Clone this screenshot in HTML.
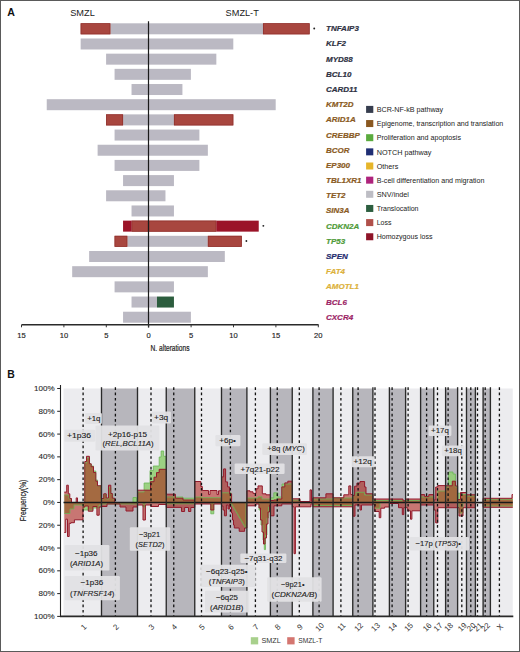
<!DOCTYPE html>
<html><head><meta charset="utf-8"><style>
html,body{margin:0;padding:0;background:#fff;}
body{width:520px;height:652px;overflow:hidden;position:relative;}
.frame{position:absolute;left:0;top:0;width:518px;height:650px;border:1px solid #5a5a5a;}
svg{position:absolute;left:0;top:0;font-family:"Liberation Sans", sans-serif;}
</style></head><body>
<svg width="520" height="652" viewBox="0 0 520 652">
<text x="7.3" y="16.4" font-size="10.6" font-weight="bold" fill="#111">A</text>
<text x="82.5" y="15.6" font-size="9.2" text-anchor="middle" fill="#222">SMZL</text>
<text x="242.2" y="15.8" font-size="9.2" text-anchor="middle" fill="#222">SMZL-T</text>
<rect x="110.34" y="23.30" width="38.16" height="11.0" fill="#bbb9c3"/>
<rect x="80.66" y="23.30" width="29.68" height="11.0" fill="#a8463f"/>
<rect x="81.01" y="23.65" width="28.98" height="10.30" fill="none" stroke="#8f2f2c" stroke-width="0.7"/>
<rect x="148.50" y="23.30" width="114.48" height="11.0" fill="#bbb9c3"/>
<rect x="262.98" y="23.30" width="46.64" height="11.0" fill="#a8463f"/>
<rect x="263.33" y="23.65" width="45.94" height="10.30" fill="none" stroke="#8f2f2c" stroke-width="0.7"/>
<circle cx="314.22" cy="28.50" r="0.95" fill="#222"/>
<text x="326" y="31.30" font-size="8.0" font-weight="bold" font-style="italic" fill="#2e3142" stroke="#2e3142" stroke-width="0.2">TNFAIP3</text>
<rect x="80.66" y="38.48" width="67.84" height="11.0" fill="#bbb9c3"/>
<rect x="148.50" y="38.48" width="84.80" height="11.0" fill="#bbb9c3"/>
<text x="326" y="46.48" font-size="8.0" font-weight="bold" font-style="italic" fill="#2e3142" stroke="#2e3142" stroke-width="0.2">KLF2</text>
<rect x="106.10" y="53.66" width="42.40" height="11.0" fill="#bbb9c3"/>
<rect x="148.50" y="53.66" width="67.84" height="11.0" fill="#bbb9c3"/>
<text x="326" y="61.66" font-size="8.0" font-weight="bold" font-style="italic" fill="#2e3142" stroke="#2e3142" stroke-width="0.2">MYD88</text>
<rect x="114.58" y="68.84" width="33.92" height="11.0" fill="#bbb9c3"/>
<rect x="148.50" y="68.84" width="42.40" height="11.0" fill="#bbb9c3"/>
<text x="326" y="76.84" font-size="8.0" font-weight="bold" font-style="italic" fill="#2e3142" stroke="#2e3142" stroke-width="0.2">BCL10</text>
<rect x="131.54" y="84.02" width="16.96" height="11.0" fill="#bbb9c3"/>
<rect x="148.50" y="84.02" width="33.92" height="11.0" fill="#bbb9c3"/>
<text x="326" y="92.02" font-size="8.0" font-weight="bold" font-style="italic" fill="#2e3142" stroke="#2e3142" stroke-width="0.2">CARD11</text>
<rect x="46.74" y="99.20" width="101.76" height="11.0" fill="#bbb9c3"/>
<rect x="148.50" y="99.20" width="127.20" height="11.0" fill="#bbb9c3"/>
<text x="326" y="107.20" font-size="8.0" font-weight="bold" font-style="italic" fill="#8a5a22" stroke="#8a5a22" stroke-width="0.2">KMT2D</text>
<rect x="123.06" y="114.38" width="25.44" height="11.0" fill="#bbb9c3"/>
<rect x="106.10" y="114.38" width="16.96" height="11.0" fill="#a8463f"/>
<rect x="106.45" y="114.73" width="16.26" height="10.30" fill="none" stroke="#8f2f2c" stroke-width="0.7"/>
<rect x="148.50" y="114.38" width="25.44" height="11.0" fill="#bbb9c3"/>
<rect x="173.94" y="114.38" width="59.36" height="11.0" fill="#a8463f"/>
<rect x="174.29" y="114.73" width="58.66" height="10.30" fill="none" stroke="#8f2f2c" stroke-width="0.7"/>
<text x="326" y="122.38" font-size="8.0" font-weight="bold" font-style="italic" fill="#8a5a22" stroke="#8a5a22" stroke-width="0.2">ARID1A</text>
<rect x="114.58" y="129.56" width="33.92" height="11.0" fill="#bbb9c3"/>
<rect x="148.50" y="129.56" width="50.88" height="11.0" fill="#bbb9c3"/>
<text x="326" y="137.56" font-size="8.0" font-weight="bold" font-style="italic" fill="#8a5a22" stroke="#8a5a22" stroke-width="0.2">CREBBP</text>
<rect x="97.62" y="144.74" width="50.88" height="11.0" fill="#bbb9c3"/>
<rect x="148.50" y="144.74" width="59.36" height="11.0" fill="#bbb9c3"/>
<text x="326" y="152.74" font-size="8.0" font-weight="bold" font-style="italic" fill="#8a5a22" stroke="#8a5a22" stroke-width="0.2">BCOR</text>
<rect x="114.58" y="159.92" width="33.92" height="11.0" fill="#bbb9c3"/>
<rect x="148.50" y="159.92" width="50.88" height="11.0" fill="#bbb9c3"/>
<text x="326" y="167.92" font-size="8.0" font-weight="bold" font-style="italic" fill="#8a5a22" stroke="#8a5a22" stroke-width="0.2">EP300</text>
<rect x="123.06" y="175.10" width="25.44" height="11.0" fill="#bbb9c3"/>
<rect x="148.50" y="175.10" width="25.44" height="11.0" fill="#bbb9c3"/>
<text x="326" y="183.10" font-size="8.0" font-weight="bold" font-style="italic" fill="#8a5a22" stroke="#8a5a22" stroke-width="0.2">TBL1XR1</text>
<rect x="106.10" y="190.28" width="42.40" height="11.0" fill="#bbb9c3"/>
<rect x="148.50" y="190.28" width="16.96" height="11.0" fill="#bbb9c3"/>
<text x="326" y="198.28" font-size="8.0" font-weight="bold" font-style="italic" fill="#8a5a22" stroke="#8a5a22" stroke-width="0.2">TET2</text>
<rect x="131.54" y="205.46" width="16.96" height="11.0" fill="#bbb9c3"/>
<rect x="148.50" y="205.46" width="25.44" height="11.0" fill="#bbb9c3"/>
<text x="326" y="213.46" font-size="8.0" font-weight="bold" font-style="italic" fill="#8a5a22" stroke="#8a5a22" stroke-width="0.2">SIN3A</text>
<rect x="131.54" y="220.64" width="16.96" height="11.0" fill="#a8463f"/>
<rect x="131.89" y="220.99" width="16.26" height="10.30" fill="none" stroke="#8f2f2c" stroke-width="0.7"/>
<rect x="123.06" y="220.64" width="8.48" height="11.0" fill="#9b1328"/>
<rect x="148.50" y="220.64" width="67.84" height="11.0" fill="#a8463f"/>
<rect x="148.85" y="220.99" width="67.14" height="10.30" fill="none" stroke="#8f2f2c" stroke-width="0.7"/>
<rect x="216.34" y="220.64" width="42.40" height="11.0" fill="#9b1328"/>
<circle cx="263.34" cy="225.84" r="0.95" fill="#222"/>
<text x="326" y="228.64" font-size="8.0" font-weight="bold" font-style="italic" fill="#4f9b39" stroke="#4f9b39" stroke-width="0.2">CDKN2A</text>
<rect x="127.30" y="235.82" width="21.20" height="11.0" fill="#bbb9c3"/>
<rect x="114.58" y="235.82" width="12.72" height="11.0" fill="#a8463f"/>
<rect x="114.93" y="236.17" width="12.02" height="10.30" fill="none" stroke="#8f2f2c" stroke-width="0.7"/>
<rect x="148.50" y="235.82" width="59.36" height="11.0" fill="#bbb9c3"/>
<rect x="207.86" y="235.82" width="33.92" height="11.0" fill="#a8463f"/>
<rect x="208.21" y="236.17" width="33.22" height="10.30" fill="none" stroke="#8f2f2c" stroke-width="0.7"/>
<circle cx="246.38" cy="241.02" r="0.95" fill="#222"/>
<text x="326" y="243.82" font-size="8.0" font-weight="bold" font-style="italic" fill="#4f9b39" stroke="#4f9b39" stroke-width="0.2">TP53</text>
<rect x="89.14" y="251.00" width="59.36" height="11.0" fill="#bbb9c3"/>
<rect x="148.50" y="251.00" width="76.32" height="11.0" fill="#bbb9c3"/>
<text x="326" y="259.00" font-size="8.0" font-weight="bold" font-style="italic" fill="#1f2c6e" stroke="#1f2c6e" stroke-width="0.2">SPEN</text>
<rect x="72.18" y="266.18" width="76.32" height="11.0" fill="#bbb9c3"/>
<rect x="148.50" y="266.18" width="59.36" height="11.0" fill="#bbb9c3"/>
<text x="326" y="274.18" font-size="8.0" font-weight="bold" font-style="italic" fill="#dcb13a" stroke="#dcb13a" stroke-width="0.2">FAT4</text>
<rect x="114.58" y="281.36" width="33.92" height="11.0" fill="#bbb9c3"/>
<rect x="148.50" y="281.36" width="25.44" height="11.0" fill="#bbb9c3"/>
<text x="326" y="289.36" font-size="8.0" font-weight="bold" font-style="italic" fill="#dcb13a" stroke="#dcb13a" stroke-width="0.2">AMOTL1</text>
<rect x="131.54" y="296.54" width="16.96" height="11.0" fill="#bbb9c3"/>
<rect x="148.50" y="296.54" width="8.48" height="11.0" fill="#bbb9c3"/>
<rect x="156.98" y="296.54" width="16.96" height="11.0" fill="#2c5d3e"/>
<text x="326" y="304.54" font-size="8.0" font-weight="bold" font-style="italic" fill="#9c1f66" stroke="#9c1f66" stroke-width="0.2">BCL6</text>
<rect x="123.06" y="311.72" width="25.44" height="11.0" fill="#bbb9c3"/>
<rect x="148.50" y="311.72" width="42.40" height="11.0" fill="#bbb9c3"/>
<text x="326" y="319.72" font-size="8.0" font-weight="bold" font-style="italic" fill="#9c1f66" stroke="#9c1f66" stroke-width="0.2">CXCR4</text>
<line x1="148.5" y1="21.2" x2="148.5" y2="327.5" stroke="#1a1a1a" stroke-width="1.2"/>
<line x1="21.5" y1="324.7" x2="318.6" y2="324.7" stroke="#2a2a2a" stroke-width="1.6"/>
<line x1="21.50" y1="324.8" x2="21.50" y2="327.3" stroke="#333" stroke-width="1"/>
<text x="21.50" y="338.4" font-size="7.6" text-anchor="middle" fill="#222" stroke="#222" stroke-width="0.15">15</text>
<line x1="63.90" y1="324.8" x2="63.90" y2="327.3" stroke="#333" stroke-width="1"/>
<text x="63.90" y="338.4" font-size="7.6" text-anchor="middle" fill="#222" stroke="#222" stroke-width="0.15">10</text>
<line x1="106.30" y1="324.8" x2="106.30" y2="327.3" stroke="#333" stroke-width="1"/>
<text x="106.30" y="338.4" font-size="7.6" text-anchor="middle" fill="#222" stroke="#222" stroke-width="0.15">5</text>
<line x1="148.70" y1="324.8" x2="148.70" y2="327.3" stroke="#333" stroke-width="1"/>
<text x="148.70" y="338.4" font-size="7.6" text-anchor="middle" fill="#222" stroke="#222" stroke-width="0.15">0</text>
<line x1="191.10" y1="324.8" x2="191.10" y2="327.3" stroke="#333" stroke-width="1"/>
<text x="191.10" y="338.4" font-size="7.6" text-anchor="middle" fill="#222" stroke="#222" stroke-width="0.15">5</text>
<line x1="233.50" y1="324.8" x2="233.50" y2="327.3" stroke="#333" stroke-width="1"/>
<text x="233.50" y="338.4" font-size="7.6" text-anchor="middle" fill="#222" stroke="#222" stroke-width="0.15">10</text>
<line x1="275.90" y1="324.8" x2="275.90" y2="327.3" stroke="#333" stroke-width="1"/>
<text x="275.90" y="338.4" font-size="7.6" text-anchor="middle" fill="#222" stroke="#222" stroke-width="0.15">15</text>
<line x1="318.30" y1="324.8" x2="318.30" y2="327.3" stroke="#333" stroke-width="1"/>
<text x="318.30" y="338.4" font-size="7.6" text-anchor="middle" fill="#222" stroke="#222" stroke-width="0.15">20</text>
<text x="0" y="0" font-size="8.6" text-anchor="middle" fill="#222" stroke="#222" stroke-width="0.2" transform="translate(170,350.6) scale(0.77,1)">N. alterations</text>
<rect x="366.1" y="105.90" width="7.2" height="7.0" fill="#363d4e"/>
<text x="376.7" y="112.10" font-size="7.6" fill="#222" textLength="66.5" lengthAdjust="spacingAndGlyphs">BCR-NF-kB pathway</text>
<rect x="366.1" y="120.05" width="7.2" height="7.0" fill="#8a5820"/>
<text x="376.7" y="126.25" font-size="7.6" fill="#222" textLength="126.6" lengthAdjust="spacingAndGlyphs">Epigenome, transcription and translation</text>
<rect x="366.1" y="134.20" width="7.2" height="7.0" fill="#5aab3e"/>
<text x="376.7" y="140.40" font-size="7.6" fill="#222" textLength="84.3" lengthAdjust="spacingAndGlyphs">Proliferation and apoptosis</text>
<rect x="366.1" y="148.35" width="7.2" height="7.0" fill="#1f2e74"/>
<text x="376.7" y="154.55" font-size="7.6" fill="#222" textLength="54.7" lengthAdjust="spacingAndGlyphs">NOTCH pathway</text>
<rect x="366.1" y="162.50" width="7.2" height="7.0" fill="#e6b52a"/>
<text x="376.7" y="168.70" font-size="7.6" fill="#222" textLength="21.6" lengthAdjust="spacingAndGlyphs">Others</text>
<rect x="366.1" y="176.65" width="7.2" height="7.0" fill="#ae237c"/>
<text x="376.7" y="182.85" font-size="7.6" fill="#222" textLength="107.7" lengthAdjust="spacingAndGlyphs">B-cell differentiation and migration</text>
<rect x="366.1" y="190.80" width="7.2" height="7.0" fill="#bdbdc4"/>
<text x="376.7" y="197.00" font-size="7.6" fill="#222" textLength="32.3" lengthAdjust="spacingAndGlyphs">SNV/indel</text>
<rect x="366.1" y="204.95" width="7.2" height="7.0" fill="#2c5e3f"/>
<text x="376.7" y="211.15" font-size="7.6" fill="#222" textLength="41.8" lengthAdjust="spacingAndGlyphs">Translocation</text>
<rect x="366.1" y="219.10" width="7.2" height="7.0" fill="#b0504a"/>
<text x="376.7" y="225.30" font-size="7.6" fill="#222" textLength="14.8" lengthAdjust="spacingAndGlyphs">Loss</text>
<rect x="366.1" y="233.25" width="7.2" height="7.0" fill="#8e1428"/>
<text x="376.7" y="239.45" font-size="7.6" fill="#222" textLength="55.8" lengthAdjust="spacingAndGlyphs">Homozygous loss</text>
<text x="7.2" y="378.2" font-size="10.4" font-weight="bold" fill="#111">B</text>
<rect x="63.50" y="388.50" width="38.00" height="227.90" fill="#ececef"/>
<rect x="101.50" y="388.50" width="36.00" height="227.90" fill="#b7b6bc"/>
<rect x="137.50" y="388.50" width="28.75" height="227.90" fill="#ececef"/>
<rect x="166.25" y="388.50" width="28.50" height="227.90" fill="#b7b6bc"/>
<rect x="194.75" y="388.50" width="26.75" height="227.90" fill="#ececef"/>
<rect x="221.50" y="388.50" width="25.40" height="227.90" fill="#b7b6bc"/>
<rect x="246.90" y="388.50" width="23.50" height="227.90" fill="#ececef"/>
<rect x="270.40" y="388.50" width="21.85" height="227.90" fill="#b7b6bc"/>
<rect x="292.25" y="388.50" width="20.65" height="227.90" fill="#ececef"/>
<rect x="312.90" y="388.50" width="20.20" height="227.90" fill="#b7b6bc"/>
<rect x="333.10" y="388.50" width="19.65" height="227.90" fill="#ececef"/>
<rect x="352.75" y="388.50" width="20.15" height="227.90" fill="#b7b6bc"/>
<rect x="372.90" y="388.50" width="16.50" height="227.90" fill="#ececef"/>
<rect x="389.40" y="388.50" width="16.20" height="227.90" fill="#b7b6bc"/>
<rect x="405.60" y="388.50" width="15.00" height="227.90" fill="#ececef"/>
<rect x="420.60" y="388.50" width="13.15" height="227.90" fill="#b7b6bc"/>
<rect x="433.75" y="388.50" width="11.85" height="227.90" fill="#ececef"/>
<rect x="445.60" y="388.50" width="12.00" height="227.90" fill="#b7b6bc"/>
<rect x="457.60" y="388.50" width="8.90" height="227.90" fill="#ececef"/>
<rect x="466.50" y="388.50" width="8.90" height="227.90" fill="#b7b6bc"/>
<rect x="475.40" y="388.50" width="7.70" height="227.90" fill="#ececef"/>
<rect x="483.10" y="388.50" width="7.30" height="227.90" fill="#b7b6bc"/>
<rect x="490.40" y="388.50" width="22.35" height="227.90" fill="#ececef"/>
<path d="M64.30,502.45L64.30,495.00L69.00,495.00L69.00,499.00L71.50,499.00L71.50,502.60L84.80,502.60L84.80,463.00L86.50,463.00L86.50,458.00L89.40,458.00L89.40,464.00L91.20,464.00L91.20,466.00L93.50,466.00L93.50,471.00L95.80,471.00L95.80,480.00L97.50,480.00L97.50,486.00L101.30,486.00L101.30,499.00L103.80,499.00L103.80,494.50L106.50,494.50L106.50,499.00L108.90,499.00L108.90,487.50L110.90,487.50L110.90,494.00L112.80,494.00L112.80,499.00L114.50,499.00L114.50,502.60L133.00,502.60L133.00,497.50L136.50,497.50L136.50,502.60L137.60,502.60L137.60,492.00L144.10,492.00L144.10,483.00L150.00,483.00L150.00,470.60L153.30,470.60L153.30,466.00L159.20,466.00L159.20,457.00L161.10,457.00L161.10,451.00L163.70,451.00L163.70,456.30L166.30,456.30L166.30,497.00L183.00,497.00L183.00,498.20L194.70,498.20L194.80,497.00L202.00,497.00L202.00,497.70L221.50,497.70L221.60,492.80L231.00,492.80L231.00,502.60L246.90,502.60L246.90,498.00L258.00,498.00L258.00,496.80L262.00,496.80L262.00,499.00L270.40,499.00L270.40,497.80L273.80,497.80L273.80,492.80L277.80,492.80L277.80,497.00L282.00,497.00L282.00,484.00L292.20,484.00L292.30,500.00L300.00,500.00L300.00,502.60L312.90,502.60L312.90,499.00L333.10,499.00L333.10,498.00L352.70,498.00L352.80,495.00L356.00,495.00L356.00,492.30L364.60,492.30L364.60,495.00L372.90,495.00L372.90,500.50L420.60,500.50L420.60,497.00L433.70,497.00L433.70,502.60L437.80,502.60L437.80,491.00L445.60,491.00L445.60,487.00L448.50,487.00L448.50,472.00L453.00,472.00L453.00,474.00L455.40,474.00L455.40,487.00L457.60,487.00L457.60,493.20L460.50,493.20L460.50,494.50L466.50,494.50L466.50,496.00L475.40,496.00L475.40,502.60L483.10,502.60L483.10,499.30L512.80,499.30L512.80,502.45Z" fill="rgba(148,206,118,0.9)"/>
<path d="M64.30,502.45L64.30,513.50L70.00,513.50L70.00,509.00L74.00,509.00L74.00,505.00L83.00,505.00L83.00,510.00L92.90,510.00L92.90,508.00L99.00,508.00L99.00,505.00L101.30,505.00L101.30,504.00L137.50,504.00L137.50,502.60L143.00,502.60L143.00,507.00L145.00,507.00L145.00,502.60L166.30,502.60L166.30,503.80L194.70,503.80L194.70,502.60L210.80,502.60L210.80,513.80L213.80,513.80L213.80,502.60L231.00,502.60L231.00,503.90L232.00,503.90L232.00,505.60L233.00,505.60L233.00,507.30L234.00,507.30L234.00,509.00L235.00,509.00L235.00,510.70L236.00,510.70L236.00,512.40L237.00,512.40L237.00,514.10L238.00,514.10L238.00,515.90L239.00,515.90L239.00,517.60L240.00,517.60L240.00,519.30L241.00,519.30L241.00,521.00L242.00,521.00L242.00,522.70L243.00,522.70L243.00,524.40L244.00,524.40L244.00,526.10L245.00,526.10L245.00,527.90L246.00,527.90L246.00,502.60L259.00,502.60L259.00,510.00L261.00,510.00L261.00,525.00L263.00,525.00L263.00,540.00L264.30,540.00L264.30,549.60L265.50,549.60L265.50,535.00L267.00,535.00L267.00,518.00L268.50,518.00L268.50,507.00L270.40,507.00L270.40,502.60L312.90,502.60L312.90,505.50L352.70,505.50L352.70,502.60L374.60,502.60L374.60,508.20L380.00,508.20L380.00,502.60L459.00,502.60L459.00,513.00L463.00,513.00L463.00,502.60L483.10,502.60L483.10,506.00L512.80,506.00L512.80,502.45Z" fill="rgba(148,206,118,0.9)"/>
<path d="M64.30,502.45L64.30,492.10L66.70,492.10L66.70,485.20L68.30,485.20L68.30,493.80L69.80,493.80L69.80,498.50L71.50,498.50L71.50,502.60L76.20,502.60L76.20,497.90L77.50,497.90L77.50,502.60L84.80,502.60L84.80,461.50L86.50,461.50L86.50,456.30L89.40,456.30L89.40,463.80L91.20,463.80L91.20,466.70L93.50,466.70L93.50,472.50L95.80,472.50L95.80,481.20L97.50,481.20L97.50,485.80L101.30,485.80L101.30,498.50L103.80,498.50L103.80,493.80L106.20,493.80L106.20,498.00L108.50,498.00L108.50,485.20L110.80,485.20L110.80,493.50L112.30,493.50L112.30,498.20L114.60,498.20L114.60,502.60L137.50,502.60L137.60,490.20L150.50,490.20L150.50,481.70L154.00,481.70L154.00,477.20L156.50,477.20L156.50,472.60L159.20,472.60L159.20,469.30L166.30,469.30L166.30,494.20L175.40,494.20L175.40,498.20L183.00,498.20L183.00,500.00L194.70,500.00L194.80,481.50L200.80,481.50L200.80,486.50L202.30,486.50L202.30,490.50L208.50,490.50L208.50,494.60L210.00,494.60L210.00,490.50L217.00,490.50L217.00,494.60L218.50,494.60L218.50,490.80L221.50,490.80L221.60,476.90L223.60,476.90L223.60,468.90L225.60,468.90L225.60,481.90L227.60,481.90L227.60,486.90L229.60,486.90L229.60,493.80L231.60,493.80L231.60,502.60L246.90,502.60L246.90,490.80L250.00,490.80L250.00,491.80L253.00,491.80L253.00,493.40L256.00,493.40L256.00,488.80L258.00,488.80L258.00,485.90L262.30,485.90L262.30,493.80L266.00,493.80L266.00,494.80L270.40,494.80L270.40,500.50L273.80,500.50L273.80,500.00L277.80,500.00L277.80,499.00L281.80,499.00L281.80,486.90L284.80,486.90L284.80,482.90L287.80,482.90L287.80,481.20L292.20,481.20L292.30,498.80L300.00,498.80L300.00,501.50L310.00,501.50L310.00,489.90L311.50,489.90L311.50,501.50L312.90,501.50L312.90,497.80L325.90,497.80L325.90,493.80L333.10,493.80L333.10,497.80L343.80,497.80L343.80,494.80L348.80,494.80L348.80,485.90L350.80,485.90L350.80,494.60L352.70,494.60L352.80,495.50L354.60,495.50L354.60,486.20L356.90,486.20L356.90,483.10L360.00,483.10L360.00,481.50L364.60,481.50L364.60,487.00L366.00,487.00L366.00,493.80L372.90,493.80L372.90,499.00L389.40,499.00L389.40,499.00L403.00,499.00L403.00,500.80L405.60,500.80L405.60,499.00L420.60,499.00L420.60,494.60L424.70,494.60L424.70,496.60L428.80,496.60L428.80,494.60L433.70,494.60L433.80,500.00L435.70,500.00L435.70,487.00L437.80,487.00L437.80,485.60L445.60,485.60L445.60,485.80L452.30,485.80L452.30,481.20L455.40,481.20L455.40,486.00L457.60,486.00L457.60,499.60L460.50,499.60L460.50,492.50L466.50,492.50L466.50,494.80L475.40,494.80L475.40,502.60L483.10,502.60L483.10,498.30L490.40,498.30L490.40,498.30L512.00,498.30L512.00,494.50L512.80,494.50L512.80,502.45Z" fill="rgba(172,22,12,0.55)"/>
<path d="M64.30,502.45L64.30,532.50L65.80,532.50L65.80,519.20L67.50,519.20L67.50,536.50L69.20,536.50L69.20,523.30L71.00,523.30L71.00,522.70L74.40,522.70L74.40,519.80L83.00,519.80L83.00,507.10L84.80,507.10L84.80,506.00L88.30,506.00L88.30,511.20L92.90,511.20L92.90,506.50L96.90,506.50L96.90,515.20L99.20,515.20L99.20,507.00L101.30,507.00L101.30,506.50L107.00,506.50L107.00,504.00L120.00,504.00L120.00,507.00L126.00,507.00L126.00,511.00L133.00,511.00L133.00,507.00L137.50,507.00L137.60,505.00L143.00,505.00L143.00,520.00L145.40,520.00L145.40,505.00L150.80,505.00L150.80,506.50L158.50,506.50L158.50,504.50L166.30,504.50L166.30,507.40L181.50,507.40L181.50,511.50L184.60,511.50L184.60,507.50L188.50,507.50L188.50,511.50L190.80,511.50L190.80,507.50L194.70,507.50L194.80,504.00L210.80,504.00L210.80,510.00L213.80,510.00L213.80,504.00L221.50,504.00L221.60,506.00L223.00,506.00L223.00,510.00L224.40,510.00L224.40,515.80L226.40,515.80L226.40,505.00L228.00,505.00L228.00,509.00L229.40,509.00L229.40,504.00L230.50,504.00L230.50,507.00L231.50,507.00L231.50,513.00L232.50,513.00L232.50,520.00L233.50,520.00L233.50,525.00L234.30,525.00L234.30,528.00L239.20,528.00L239.20,531.30L244.60,531.30L244.60,528.00L246.90,528.00L246.90,505.80L256.00,505.80L256.00,504.00L259.00,504.00L259.00,508.00L260.50,508.00L260.50,520.00L262.00,520.00L262.00,532.00L263.50,532.00L263.50,544.00L265.00,544.00L265.00,538.00L266.50,538.00L266.50,524.00L268.00,524.00L268.00,512.00L269.50,512.00L269.50,505.00L270.40,505.00L270.40,515.80L274.00,515.80L274.00,505.80L281.80,505.80L281.80,504.00L292.20,504.00L292.30,506.80L294.00,506.80L294.00,553.70L295.40,553.70L295.40,506.80L311.00,506.80L311.00,504.00L312.90,504.00L312.90,506.80L333.10,506.80L333.10,506.80L352.70,506.80L352.80,516.20L355.00,516.20L355.00,505.00L360.00,505.00L360.00,510.00L361.50,510.00L361.50,505.00L372.90,505.00L372.90,504.00L374.60,504.00L374.60,511.50L379.20,511.50L379.20,517.70L380.80,517.70L380.80,508.20L384.60,508.20L384.60,507.00L389.40,507.00L389.40,503.50L398.50,503.50L398.50,507.70L402.30,507.70L402.30,514.60L403.80,514.60L403.80,507.70L405.60,507.70L405.60,507.70L407.70,507.70L407.70,510.80L410.50,510.80L410.50,519.20L411.90,519.20L411.90,510.80L420.60,510.80L420.60,505.00L433.70,505.00L433.80,510.00L435.70,510.00L435.70,522.90L437.80,522.90L437.80,507.70L445.60,507.70L445.60,507.70L457.60,507.70L457.60,507.70L459.00,507.70L459.00,516.00L463.00,516.00L463.00,507.70L466.50,507.70L466.50,507.70L475.40,507.70L475.40,502.60L483.10,502.60L483.10,507.30L490.40,507.30L490.40,507.30L512.80,507.30L512.80,502.45Z" fill="rgba(172,22,12,0.55)"/>
<path d="M64.30,495.00L69.00,495.00L69.00,499.00L71.50,499.00L71.50,502.60L84.80,502.60L84.80,463.00L86.50,463.00L86.50,458.00L89.40,458.00L89.40,464.00L91.20,464.00L91.20,466.00L93.50,466.00L93.50,471.00L95.80,471.00L95.80,480.00L97.50,480.00L97.50,486.00L101.30,486.00L101.30,499.00L103.80,499.00L103.80,494.50L106.50,494.50L106.50,499.00L108.90,499.00L108.90,487.50L110.90,487.50L110.90,494.00L112.80,494.00L112.80,499.00L114.50,499.00L114.50,502.60L133.00,502.60L133.00,497.50L136.50,497.50L136.50,502.60L137.60,502.60L137.60,492.00L144.10,492.00L144.10,483.00L150.00,483.00L150.00,470.60L153.30,470.60L153.30,466.00L159.20,466.00L159.20,457.00L161.10,457.00L161.10,451.00L163.70,451.00L163.70,456.30L166.30,456.30L166.30,497.00L183.00,497.00L183.00,498.20L194.70,498.20L194.80,497.00L202.00,497.00L202.00,497.70L221.50,497.70L221.60,492.80L231.00,492.80L231.00,502.60L246.90,502.60L246.90,498.00L258.00,498.00L258.00,496.80L262.00,496.80L262.00,499.00L270.40,499.00L270.40,497.80L273.80,497.80L273.80,492.80L277.80,492.80L277.80,497.00L282.00,497.00L282.00,484.00L292.20,484.00L292.30,500.00L300.00,500.00L300.00,502.60L312.90,502.60L312.90,499.00L333.10,499.00L333.10,498.00L352.70,498.00L352.80,495.00L356.00,495.00L356.00,492.30L364.60,492.30L364.60,495.00L372.90,495.00L372.90,500.50L420.60,500.50L420.60,497.00L433.70,497.00L433.70,502.60L437.80,502.60L437.80,491.00L445.60,491.00L445.60,487.00L448.50,487.00L448.50,472.00L453.00,472.00L453.00,474.00L455.40,474.00L455.40,487.00L457.60,487.00L457.60,493.20L460.50,493.20L460.50,494.50L466.50,494.50L466.50,496.00L475.40,496.00L475.40,502.60L483.10,502.60L483.10,499.30L512.80,499.30" fill="none" stroke="#6ab655" stroke-width="0.8"/>
<path d="M64.30,513.50L70.00,513.50L70.00,509.00L74.00,509.00L74.00,505.00L83.00,505.00L83.00,510.00L92.90,510.00L92.90,508.00L99.00,508.00L99.00,505.00L101.30,505.00L101.30,504.00L137.50,504.00L137.50,502.60L143.00,502.60L143.00,507.00L145.00,507.00L145.00,502.60L166.30,502.60L166.30,503.80L194.70,503.80L194.70,502.60L210.80,502.60L210.80,513.80L213.80,513.80L213.80,502.60L231.00,502.60L231.00,503.90L232.00,503.90L232.00,505.60L233.00,505.60L233.00,507.30L234.00,507.30L234.00,509.00L235.00,509.00L235.00,510.70L236.00,510.70L236.00,512.40L237.00,512.40L237.00,514.10L238.00,514.10L238.00,515.90L239.00,515.90L239.00,517.60L240.00,517.60L240.00,519.30L241.00,519.30L241.00,521.00L242.00,521.00L242.00,522.70L243.00,522.70L243.00,524.40L244.00,524.40L244.00,526.10L245.00,526.10L245.00,527.90L246.00,527.90L246.00,502.60L259.00,502.60L259.00,510.00L261.00,510.00L261.00,525.00L263.00,525.00L263.00,540.00L264.30,540.00L264.30,549.60L265.50,549.60L265.50,535.00L267.00,535.00L267.00,518.00L268.50,518.00L268.50,507.00L270.40,507.00L270.40,502.60L312.90,502.60L312.90,505.50L352.70,505.50L352.70,502.60L374.60,502.60L374.60,508.20L380.00,508.20L380.00,502.60L459.00,502.60L459.00,513.00L463.00,513.00L463.00,502.60L483.10,502.60L483.10,506.00L512.80,506.00" fill="none" stroke="#6ab655" stroke-width="0.8"/>
<path d="M64.30,492.10L66.70,492.10L66.70,485.20L68.30,485.20L68.30,493.80L69.80,493.80L69.80,498.50L71.50,498.50L71.50,502.60L76.20,502.60L76.20,497.90L77.50,497.90L77.50,502.60L84.80,502.60L84.80,461.50L86.50,461.50L86.50,456.30L89.40,456.30L89.40,463.80L91.20,463.80L91.20,466.70L93.50,466.70L93.50,472.50L95.80,472.50L95.80,481.20L97.50,481.20L97.50,485.80L101.30,485.80L101.30,498.50L103.80,498.50L103.80,493.80L106.20,493.80L106.20,498.00L108.50,498.00L108.50,485.20L110.80,485.20L110.80,493.50L112.30,493.50L112.30,498.20L114.60,498.20L114.60,502.60L137.50,502.60L137.60,490.20L150.50,490.20L150.50,481.70L154.00,481.70L154.00,477.20L156.50,477.20L156.50,472.60L159.20,472.60L159.20,469.30L166.30,469.30L166.30,494.20L175.40,494.20L175.40,498.20L183.00,498.20L183.00,500.00L194.70,500.00L194.80,481.50L200.80,481.50L200.80,486.50L202.30,486.50L202.30,490.50L208.50,490.50L208.50,494.60L210.00,494.60L210.00,490.50L217.00,490.50L217.00,494.60L218.50,494.60L218.50,490.80L221.50,490.80L221.60,476.90L223.60,476.90L223.60,468.90L225.60,468.90L225.60,481.90L227.60,481.90L227.60,486.90L229.60,486.90L229.60,493.80L231.60,493.80L231.60,502.60L246.90,502.60L246.90,490.80L250.00,490.80L250.00,491.80L253.00,491.80L253.00,493.40L256.00,493.40L256.00,488.80L258.00,488.80L258.00,485.90L262.30,485.90L262.30,493.80L266.00,493.80L266.00,494.80L270.40,494.80L270.40,500.50L273.80,500.50L273.80,500.00L277.80,500.00L277.80,499.00L281.80,499.00L281.80,486.90L284.80,486.90L284.80,482.90L287.80,482.90L287.80,481.20L292.20,481.20L292.30,498.80L300.00,498.80L300.00,501.50L310.00,501.50L310.00,489.90L311.50,489.90L311.50,501.50L312.90,501.50L312.90,497.80L325.90,497.80L325.90,493.80L333.10,493.80L333.10,497.80L343.80,497.80L343.80,494.80L348.80,494.80L348.80,485.90L350.80,485.90L350.80,494.60L352.70,494.60L352.80,495.50L354.60,495.50L354.60,486.20L356.90,486.20L356.90,483.10L360.00,483.10L360.00,481.50L364.60,481.50L364.60,487.00L366.00,487.00L366.00,493.80L372.90,493.80L372.90,499.00L389.40,499.00L389.40,499.00L403.00,499.00L403.00,500.80L405.60,500.80L405.60,499.00L420.60,499.00L420.60,494.60L424.70,494.60L424.70,496.60L428.80,496.60L428.80,494.60L433.70,494.60L433.80,500.00L435.70,500.00L435.70,487.00L437.80,487.00L437.80,485.60L445.60,485.60L445.60,485.80L452.30,485.80L452.30,481.20L455.40,481.20L455.40,486.00L457.60,486.00L457.60,499.60L460.50,499.60L460.50,492.50L466.50,492.50L466.50,494.80L475.40,494.80L475.40,502.60L483.10,502.60L483.10,498.30L490.40,498.30L490.40,498.30L512.00,498.30L512.00,494.50L512.80,494.50" fill="none" stroke="#931a2c" stroke-width="1"/>
<path d="M64.30,532.50L65.80,532.50L65.80,519.20L67.50,519.20L67.50,536.50L69.20,536.50L69.20,523.30L71.00,523.30L71.00,522.70L74.40,522.70L74.40,519.80L83.00,519.80L83.00,507.10L84.80,507.10L84.80,506.00L88.30,506.00L88.30,511.20L92.90,511.20L92.90,506.50L96.90,506.50L96.90,515.20L99.20,515.20L99.20,507.00L101.30,507.00L101.30,506.50L107.00,506.50L107.00,504.00L120.00,504.00L120.00,507.00L126.00,507.00L126.00,511.00L133.00,511.00L133.00,507.00L137.50,507.00L137.60,505.00L143.00,505.00L143.00,520.00L145.40,520.00L145.40,505.00L150.80,505.00L150.80,506.50L158.50,506.50L158.50,504.50L166.30,504.50L166.30,507.40L181.50,507.40L181.50,511.50L184.60,511.50L184.60,507.50L188.50,507.50L188.50,511.50L190.80,511.50L190.80,507.50L194.70,507.50L194.80,504.00L210.80,504.00L210.80,510.00L213.80,510.00L213.80,504.00L221.50,504.00L221.60,506.00L223.00,506.00L223.00,510.00L224.40,510.00L224.40,515.80L226.40,515.80L226.40,505.00L228.00,505.00L228.00,509.00L229.40,509.00L229.40,504.00L230.50,504.00L230.50,507.00L231.50,507.00L231.50,513.00L232.50,513.00L232.50,520.00L233.50,520.00L233.50,525.00L234.30,525.00L234.30,528.00L239.20,528.00L239.20,531.30L244.60,531.30L244.60,528.00L246.90,528.00L246.90,505.80L256.00,505.80L256.00,504.00L259.00,504.00L259.00,508.00L260.50,508.00L260.50,520.00L262.00,520.00L262.00,532.00L263.50,532.00L263.50,544.00L265.00,544.00L265.00,538.00L266.50,538.00L266.50,524.00L268.00,524.00L268.00,512.00L269.50,512.00L269.50,505.00L270.40,505.00L270.40,515.80L274.00,515.80L274.00,505.80L281.80,505.80L281.80,504.00L292.20,504.00L292.30,506.80L294.00,506.80L294.00,553.70L295.40,553.70L295.40,506.80L311.00,506.80L311.00,504.00L312.90,504.00L312.90,506.80L333.10,506.80L333.10,506.80L352.70,506.80L352.80,516.20L355.00,516.20L355.00,505.00L360.00,505.00L360.00,510.00L361.50,510.00L361.50,505.00L372.90,505.00L372.90,504.00L374.60,504.00L374.60,511.50L379.20,511.50L379.20,517.70L380.80,517.70L380.80,508.20L384.60,508.20L384.60,507.00L389.40,507.00L389.40,503.50L398.50,503.50L398.50,507.70L402.30,507.70L402.30,514.60L403.80,514.60L403.80,507.70L405.60,507.70L405.60,507.70L407.70,507.70L407.70,510.80L410.50,510.80L410.50,519.20L411.90,519.20L411.90,510.80L420.60,510.80L420.60,505.00L433.70,505.00L433.80,510.00L435.70,510.00L435.70,522.90L437.80,522.90L437.80,507.70L445.60,507.70L445.60,507.70L457.60,507.70L457.60,507.70L459.00,507.70L459.00,516.00L463.00,516.00L463.00,507.70L466.50,507.70L466.50,507.70L475.40,507.70L475.40,502.60L483.10,502.60L483.10,507.30L490.40,507.30L490.40,507.30L512.80,507.30" fill="none" stroke="#931a2c" stroke-width="1"/>
<line x1="63.5" y1="502.45" x2="512.75" y2="502.45" stroke="#1a1a1a" stroke-width="1.5"/>
<line x1="83.10" y1="387.3" x2="83.10" y2="616.40" stroke="#111" stroke-width="1.3" stroke-dasharray="2.6 2.7"/>
<line x1="101.50" y1="387.2" x2="101.50" y2="616.40" stroke="#2a2a2a" stroke-width="1.35"/>
<line x1="115.40" y1="387.3" x2="115.40" y2="616.40" stroke="#111" stroke-width="1.3" stroke-dasharray="2.6 2.7"/>
<line x1="137.50" y1="387.2" x2="137.50" y2="616.40" stroke="#2a2a2a" stroke-width="1.35"/>
<line x1="151.00" y1="387.3" x2="151.00" y2="616.40" stroke="#111" stroke-width="1.3" stroke-dasharray="2.6 2.7"/>
<line x1="166.25" y1="387.2" x2="166.25" y2="616.40" stroke="#2a2a2a" stroke-width="1.35"/>
<line x1="173.75" y1="387.3" x2="173.75" y2="616.40" stroke="#111" stroke-width="1.3" stroke-dasharray="2.6 2.7"/>
<line x1="194.75" y1="387.2" x2="194.75" y2="616.40" stroke="#2a2a2a" stroke-width="1.35"/>
<line x1="201.50" y1="387.3" x2="201.50" y2="616.40" stroke="#111" stroke-width="1.3" stroke-dasharray="2.6 2.7"/>
<line x1="221.50" y1="387.2" x2="221.50" y2="616.40" stroke="#2a2a2a" stroke-width="1.35"/>
<line x1="230.40" y1="387.3" x2="230.40" y2="616.40" stroke="#111" stroke-width="1.3" stroke-dasharray="2.6 2.7"/>
<line x1="246.90" y1="387.2" x2="246.90" y2="616.40" stroke="#2a2a2a" stroke-width="1.35"/>
<line x1="255.40" y1="387.3" x2="255.40" y2="616.40" stroke="#111" stroke-width="1.3" stroke-dasharray="2.6 2.7"/>
<line x1="270.40" y1="387.2" x2="270.40" y2="616.40" stroke="#2a2a2a" stroke-width="1.35"/>
<line x1="277.25" y1="387.3" x2="277.25" y2="616.40" stroke="#111" stroke-width="1.3" stroke-dasharray="2.6 2.7"/>
<line x1="292.25" y1="387.2" x2="292.25" y2="616.40" stroke="#2a2a2a" stroke-width="1.35"/>
<line x1="299.30" y1="387.3" x2="299.30" y2="616.40" stroke="#111" stroke-width="1.3" stroke-dasharray="2.6 2.7"/>
<line x1="312.90" y1="387.2" x2="312.90" y2="616.40" stroke="#2a2a2a" stroke-width="1.35"/>
<line x1="319.10" y1="387.3" x2="319.10" y2="616.40" stroke="#111" stroke-width="1.3" stroke-dasharray="2.6 2.7"/>
<line x1="333.10" y1="387.2" x2="333.10" y2="616.40" stroke="#2a2a2a" stroke-width="1.35"/>
<line x1="340.90" y1="387.3" x2="340.90" y2="616.40" stroke="#111" stroke-width="1.3" stroke-dasharray="2.6 2.7"/>
<line x1="352.75" y1="387.2" x2="352.75" y2="616.40" stroke="#2a2a2a" stroke-width="1.35"/>
<line x1="358.10" y1="387.3" x2="358.10" y2="616.40" stroke="#111" stroke-width="1.3" stroke-dasharray="2.6 2.7"/>
<line x1="372.90" y1="387.2" x2="372.90" y2="616.40" stroke="#2a2a2a" stroke-width="1.35"/>
<line x1="375.00" y1="387.3" x2="375.00" y2="616.40" stroke="#111" stroke-width="1.3" stroke-dasharray="2.6 2.7"/>
<line x1="389.40" y1="387.2" x2="389.40" y2="616.40" stroke="#2a2a2a" stroke-width="1.35"/>
<line x1="392.10" y1="387.3" x2="392.10" y2="616.40" stroke="#111" stroke-width="1.3" stroke-dasharray="2.6 2.7"/>
<line x1="405.60" y1="387.2" x2="405.60" y2="616.40" stroke="#2a2a2a" stroke-width="1.35"/>
<line x1="408.10" y1="387.3" x2="408.10" y2="616.40" stroke="#111" stroke-width="1.3" stroke-dasharray="2.6 2.7"/>
<line x1="420.60" y1="387.2" x2="420.60" y2="616.40" stroke="#2a2a2a" stroke-width="1.35"/>
<line x1="426.60" y1="387.3" x2="426.60" y2="616.40" stroke="#111" stroke-width="1.3" stroke-dasharray="2.6 2.7"/>
<line x1="433.75" y1="387.2" x2="433.75" y2="616.40" stroke="#2a2a2a" stroke-width="1.35"/>
<line x1="437.50" y1="387.3" x2="437.50" y2="616.40" stroke="#111" stroke-width="1.3" stroke-dasharray="2.6 2.7"/>
<line x1="445.60" y1="387.2" x2="445.60" y2="616.40" stroke="#2a2a2a" stroke-width="1.35"/>
<line x1="448.10" y1="387.3" x2="448.10" y2="616.40" stroke="#111" stroke-width="1.3" stroke-dasharray="2.6 2.7"/>
<line x1="457.60" y1="387.2" x2="457.60" y2="616.40" stroke="#2a2a2a" stroke-width="1.35"/>
<line x1="461.80" y1="387.3" x2="461.80" y2="616.40" stroke="#111" stroke-width="1.3" stroke-dasharray="2.6 2.7"/>
<line x1="466.50" y1="387.2" x2="466.50" y2="616.40" stroke="#2a2a2a" stroke-width="1.35"/>
<line x1="470.80" y1="387.3" x2="470.80" y2="616.40" stroke="#111" stroke-width="1.3" stroke-dasharray="2.6 2.7"/>
<line x1="475.40" y1="387.2" x2="475.40" y2="616.40" stroke="#2a2a2a" stroke-width="1.35"/>
<line x1="477.50" y1="387.3" x2="477.50" y2="616.40" stroke="#111" stroke-width="1.3" stroke-dasharray="2.6 2.7"/>
<line x1="483.10" y1="387.2" x2="483.10" y2="616.40" stroke="#2a2a2a" stroke-width="1.35"/>
<line x1="485.20" y1="387.3" x2="485.20" y2="616.40" stroke="#111" stroke-width="1.3" stroke-dasharray="2.6 2.7"/>
<line x1="490.40" y1="387.2" x2="490.40" y2="616.40" stroke="#2a2a2a" stroke-width="1.35"/>
<line x1="499.40" y1="387.3" x2="499.40" y2="616.40" stroke="#111" stroke-width="1.3" stroke-dasharray="2.6 2.7"/>
<rect x="85.10" y="412.90" width="16.80" height="11.10" rx="1.2" fill="#e2e2e4" fill-opacity="0.95"/>
<text x="87.20" y="420.60" font-size="7.8" fill="#1c1c1c" stroke="#1c1c1c" stroke-width="0.12" textLength="13.30" lengthAdjust="spacingAndGlyphs">+1q</text>
<rect x="64.40" y="429.70" width="30.80" height="12.00" rx="1.2" fill="#e2e2e4" fill-opacity="0.95"/>
<text x="67.10" y="437.80" font-size="7.8" fill="#1c1c1c" stroke="#1c1c1c" stroke-width="0.12" textLength="24.00" lengthAdjust="spacingAndGlyphs">+1p36</text>
<rect x="95.50" y="425.50" width="63.90" height="24.90" rx="1.2" fill="#e2e2e4" fill-opacity="0.95"/>
<text x="107.90" y="436.50" font-size="7.8" fill="#1c1c1c" stroke="#1c1c1c" stroke-width="0.12" textLength="39.20" lengthAdjust="spacingAndGlyphs">+2p16-p15</text>
<text x="102.40" y="446.20" font-size="7.8" fill="#1c1c1c" stroke="#1c1c1c" stroke-width="0.12" textLength="51.20" lengthAdjust="spacingAndGlyphs">(<tspan font-style="italic">REL,BCL11A</tspan>)</text>
<rect x="152.10" y="411.40" width="18.80" height="12.10" rx="1.2" fill="#e2e2e4" fill-opacity="0.95"/>
<text x="154.10" y="419.50" font-size="7.8" fill="#1c1c1c" stroke="#1c1c1c" stroke-width="0.12" textLength="14.10" lengthAdjust="spacingAndGlyphs">+3q</text>
<rect x="215.40" y="435.10" width="25.00" height="11.10" rx="1.2" fill="#e2e2e4" fill-opacity="0.95"/>
<text x="219.20" y="442.80" font-size="7.8" fill="#1c1c1c" stroke="#1c1c1c" stroke-width="0.12" textLength="16.60" lengthAdjust="spacingAndGlyphs">+6p•</text>
<rect x="262.30" y="443.20" width="44.60" height="11.80" rx="1.2" fill="#e2e2e4" fill-opacity="0.95"/>
<text x="267.20" y="451.30" font-size="7.8" fill="#1c1c1c" stroke="#1c1c1c" stroke-width="0.12" textLength="37.60" lengthAdjust="spacingAndGlyphs">+8q (<tspan font-style="italic">MYC</tspan>)</text>
<rect x="234.60" y="463.40" width="50.00" height="10.50" rx="1.2" fill="#e2e2e4" fill-opacity="0.95"/>
<text x="240.50" y="471.50" font-size="7.8" fill="#1c1c1c" stroke="#1c1c1c" stroke-width="0.12" textLength="39.00" lengthAdjust="spacingAndGlyphs">+7q21-p22</text>
<rect x="351.50" y="456.20" width="23.10" height="11.10" rx="1.2" fill="#e2e2e4" fill-opacity="0.95"/>
<text x="353.50" y="464.20" font-size="7.8" fill="#1c1c1c" stroke="#1c1c1c" stroke-width="0.12" textLength="18.40" lengthAdjust="spacingAndGlyphs">+12q</text>
<rect x="428.50" y="425.60" width="22.90" height="10.40" rx="1.2" fill="#e2e2e4" fill-opacity="0.95"/>
<text x="431.10" y="433.00" font-size="7.8" fill="#1c1c1c" stroke="#1c1c1c" stroke-width="0.12" textLength="17.70" lengthAdjust="spacingAndGlyphs">+17q</text>
<rect x="441.90" y="445.50" width="22.50" height="10.80" rx="1.2" fill="#e2e2e4" fill-opacity="0.95"/>
<text x="444.20" y="453.30" font-size="7.8" fill="#1c1c1c" stroke="#1c1c1c" stroke-width="0.12" textLength="17.60" lengthAdjust="spacingAndGlyphs">+18q</text>
<rect x="64.75" y="545.00" width="44.65" height="25.60" rx="1.2" fill="#e2e2e4" fill-opacity="0.95"/>
<text x="75.00" y="556.00" font-size="7.8" fill="#1c1c1c" stroke="#1c1c1c" stroke-width="0.12" textLength="22.50" lengthAdjust="spacingAndGlyphs">−1p36</text>
<text x="70.00" y="565.60" font-size="7.8" fill="#1c1c1c" stroke="#1c1c1c" stroke-width="0.12" textLength="33.10" lengthAdjust="spacingAndGlyphs">(<tspan font-style="italic">ARID1A</tspan>)</text>
<rect x="64.70" y="576.00" width="55.20" height="24.30" rx="1.2" fill="#e2e2e4" fill-opacity="0.95"/>
<text x="80.60" y="585.40" font-size="7.8" fill="#1c1c1c" stroke="#1c1c1c" stroke-width="0.12" textLength="22.50" lengthAdjust="spacingAndGlyphs">−1p36</text>
<text x="70.00" y="595.60" font-size="7.8" fill="#1c1c1c" stroke="#1c1c1c" stroke-width="0.12" textLength="44.40" lengthAdjust="spacingAndGlyphs">(<tspan font-style="italic">TNFRSF14</tspan>)</text>
<rect x="129.80" y="527.30" width="40.40" height="23.50" rx="1.2" fill="#e2e2e4" fill-opacity="0.95"/>
<text x="138.90" y="536.90" font-size="7.8" fill="#1c1c1c" stroke="#1c1c1c" stroke-width="0.12" textLength="21.20" lengthAdjust="spacingAndGlyphs">−3p21</text>
<text x="135.60" y="546.50" font-size="7.8" fill="#1c1c1c" stroke="#1c1c1c" stroke-width="0.12" textLength="28.80" lengthAdjust="spacingAndGlyphs">(<tspan font-style="italic">SETD2</tspan>)</text>
<rect x="240.30" y="553.60" width="46.10" height="9.40" rx="1.2" fill="#e2e2e4" fill-opacity="0.95"/>
<text x="244.50" y="560.50" font-size="7.8" fill="#1c1c1c" stroke="#1c1c1c" stroke-width="0.12" textLength="37.90" lengthAdjust="spacingAndGlyphs">−7q31-q32</text>
<rect x="200.50" y="564.80" width="55.20" height="22.30" rx="1.2" fill="#e2e2e4" fill-opacity="0.95"/>
<text x="206.00" y="573.90" font-size="7.8" fill="#1c1c1c" stroke="#1c1c1c" stroke-width="0.12" textLength="41.50" lengthAdjust="spacingAndGlyphs">−6q23-q25•</text>
<text x="208.70" y="583.50" font-size="7.8" fill="#1c1c1c" stroke="#1c1c1c" stroke-width="0.12" textLength="36.10" lengthAdjust="spacingAndGlyphs">(<tspan font-style="italic">TNFAIP3</tspan>)</text>
<rect x="205.00" y="590.70" width="44.30" height="21.70" rx="1.2" fill="#e2e2e4" fill-opacity="0.95"/>
<text x="215.90" y="600.00" font-size="7.8" fill="#1c1c1c" stroke="#1c1c1c" stroke-width="0.12" textLength="22.10" lengthAdjust="spacingAndGlyphs">−6q25</text>
<text x="210.10" y="609.70" font-size="7.8" fill="#1c1c1c" stroke="#1c1c1c" stroke-width="0.12" textLength="33.30" lengthAdjust="spacingAndGlyphs">(<tspan font-style="italic">ARID1B</tspan>)</text>
<rect x="267.10" y="577.20" width="54.50" height="24.60" rx="1.2" fill="#e2e2e4" fill-opacity="0.95"/>
<text x="281.00" y="586.60" font-size="7.8" fill="#1c1c1c" stroke="#1c1c1c" stroke-width="0.12" textLength="23.50" lengthAdjust="spacingAndGlyphs">−9p21•</text>
<text x="271.50" y="596.70" font-size="7.8" fill="#1c1c1c" stroke="#1c1c1c" stroke-width="0.12" textLength="45.70" lengthAdjust="spacingAndGlyphs">(<tspan font-style="italic">CDKN2A/B</tspan>)</text>
<rect x="409.50" y="537.00" width="59.50" height="13.50" rx="1.2" fill="#e2e2e4" fill-opacity="0.95"/>
<text x="415.50" y="545.80" font-size="7.8" fill="#1c1c1c" stroke="#1c1c1c" stroke-width="0.12" textLength="45.40" lengthAdjust="spacingAndGlyphs">−17p (<tspan font-style="italic">TP53</tspan>)•</text>
<line x1="60.5" y1="385" x2="60.5" y2="616.40" stroke="#222" stroke-width="1.1"/>
<line x1="60" y1="616.40" x2="513.3" y2="616.40" stroke="#2a2a2a" stroke-width="1.6"/>
<line x1="57.2" y1="388.50" x2="60.5" y2="388.50" stroke="#222" stroke-width="1"/>
<text x="0" y="0" font-size="7.5" text-anchor="end" fill="#2a2a2a" stroke="#2a2a2a" stroke-width="0.1" transform="translate(54.6,391.10) scale(1.07,1)">100%</text>
<line x1="57.2" y1="411.29" x2="60.5" y2="411.29" stroke="#222" stroke-width="1"/>
<text x="0" y="0" font-size="7.5" text-anchor="end" fill="#2a2a2a" stroke="#2a2a2a" stroke-width="0.1" transform="translate(54.6,413.89) scale(1.07,1)">80%</text>
<line x1="57.2" y1="434.08" x2="60.5" y2="434.08" stroke="#222" stroke-width="1"/>
<text x="0" y="0" font-size="7.5" text-anchor="end" fill="#2a2a2a" stroke="#2a2a2a" stroke-width="0.1" transform="translate(54.6,436.68) scale(1.07,1)">60%</text>
<line x1="57.2" y1="456.87" x2="60.5" y2="456.87" stroke="#222" stroke-width="1"/>
<text x="0" y="0" font-size="7.5" text-anchor="end" fill="#2a2a2a" stroke="#2a2a2a" stroke-width="0.1" transform="translate(54.6,459.47) scale(1.07,1)">40%</text>
<line x1="57.2" y1="479.66" x2="60.5" y2="479.66" stroke="#222" stroke-width="1"/>
<text x="0" y="0" font-size="7.5" text-anchor="end" fill="#2a2a2a" stroke="#2a2a2a" stroke-width="0.1" transform="translate(54.6,482.26) scale(1.07,1)">20%</text>
<line x1="57.2" y1="502.45" x2="60.5" y2="502.45" stroke="#222" stroke-width="1"/>
<text x="0" y="0" font-size="7.5" text-anchor="end" fill="#2a2a2a" stroke="#2a2a2a" stroke-width="0.1" transform="translate(54.6,505.05) scale(1.07,1)">0%</text>
<line x1="57.2" y1="525.24" x2="60.5" y2="525.24" stroke="#222" stroke-width="1"/>
<text x="0" y="0" font-size="7.5" text-anchor="end" fill="#2a2a2a" stroke="#2a2a2a" stroke-width="0.1" transform="translate(54.6,527.84) scale(1.07,1)">20%</text>
<line x1="57.2" y1="548.03" x2="60.5" y2="548.03" stroke="#222" stroke-width="1"/>
<text x="0" y="0" font-size="7.5" text-anchor="end" fill="#2a2a2a" stroke="#2a2a2a" stroke-width="0.1" transform="translate(54.6,550.63) scale(1.07,1)">40%</text>
<line x1="57.2" y1="570.82" x2="60.5" y2="570.82" stroke="#222" stroke-width="1"/>
<text x="0" y="0" font-size="7.5" text-anchor="end" fill="#2a2a2a" stroke="#2a2a2a" stroke-width="0.1" transform="translate(54.6,573.42) scale(1.07,1)">60%</text>
<line x1="57.2" y1="593.61" x2="60.5" y2="593.61" stroke="#222" stroke-width="1"/>
<text x="0" y="0" font-size="7.5" text-anchor="end" fill="#2a2a2a" stroke="#2a2a2a" stroke-width="0.1" transform="translate(54.6,596.21) scale(1.07,1)">80%</text>
<line x1="57.2" y1="616.40" x2="60.5" y2="616.40" stroke="#222" stroke-width="1"/>
<text x="0" y="0" font-size="7.5" text-anchor="end" fill="#2a2a2a" stroke="#2a2a2a" stroke-width="0.1" transform="translate(54.6,619.00) scale(1.07,1)">100%</text>
<text x="0" y="0" font-size="8.3" text-anchor="middle" fill="#222" stroke="#222" stroke-width="0.2" transform="translate(26.3,500.5) rotate(-90) scale(0.8,1)">Frequency(%)</text>
<text x="0" y="0" font-size="7.9" text-anchor="middle" fill="#333" transform="translate(85.50,628.90) rotate(-45)">1</text>
<text x="0" y="0" font-size="7.9" text-anchor="middle" fill="#333" transform="translate(117.80,628.90) rotate(-45)">2</text>
<text x="0" y="0" font-size="7.9" text-anchor="middle" fill="#333" transform="translate(153.40,628.90) rotate(-45)">3</text>
<text x="0" y="0" font-size="7.9" text-anchor="middle" fill="#333" transform="translate(176.15,628.90) rotate(-45)">4</text>
<text x="0" y="0" font-size="7.9" text-anchor="middle" fill="#333" transform="translate(203.90,628.90) rotate(-45)">5</text>
<text x="0" y="0" font-size="7.9" text-anchor="middle" fill="#333" transform="translate(232.80,628.90) rotate(-45)">6</text>
<text x="0" y="0" font-size="7.9" text-anchor="middle" fill="#333" transform="translate(257.80,628.90) rotate(-45)">7</text>
<text x="0" y="0" font-size="7.9" text-anchor="middle" fill="#333" transform="translate(279.65,628.90) rotate(-45)">8</text>
<text x="0" y="0" font-size="7.9" text-anchor="middle" fill="#333" transform="translate(301.70,628.90) rotate(-45)">9</text>
<text x="0" y="0" font-size="7.9" text-anchor="middle" fill="#333" transform="translate(321.50,628.90) rotate(-45)">10</text>
<text x="0" y="0" font-size="7.9" text-anchor="middle" fill="#333" transform="translate(343.30,628.90) rotate(-45)">11</text>
<text x="0" y="0" font-size="7.9" text-anchor="middle" fill="#333" transform="translate(360.50,628.90) rotate(-45)">12</text>
<text x="0" y="0" font-size="7.9" text-anchor="middle" fill="#333" transform="translate(377.40,628.90) rotate(-45)">13</text>
<text x="0" y="0" font-size="7.9" text-anchor="middle" fill="#333" transform="translate(394.50,628.90) rotate(-45)">14</text>
<text x="0" y="0" font-size="7.9" text-anchor="middle" fill="#333" transform="translate(410.50,628.90) rotate(-45)">15</text>
<text x="0" y="0" font-size="7.9" text-anchor="middle" fill="#333" transform="translate(429.00,628.90) rotate(-45)">16</text>
<text x="0" y="0" font-size="7.9" text-anchor="middle" fill="#333" transform="translate(439.90,628.90) rotate(-45)">17</text>
<text x="0" y="0" font-size="7.9" text-anchor="middle" fill="#333" transform="translate(450.50,628.90) rotate(-45)">18</text>
<text x="0" y="0" font-size="7.9" text-anchor="middle" fill="#333" transform="translate(464.20,628.90) rotate(-45)">19</text>
<text x="0" y="0" font-size="7.9" text-anchor="middle" fill="#333" transform="translate(473.20,628.90) rotate(-45)">20</text>
<text x="0" y="0" font-size="7.9" text-anchor="middle" fill="#333" transform="translate(479.90,628.90) rotate(-45)">21</text>
<text x="0" y="0" font-size="7.9" text-anchor="middle" fill="#333" transform="translate(487.60,628.90) rotate(-45)">22</text>
<text x="0" y="0" font-size="7.9" text-anchor="middle" fill="#333" transform="translate(501.80,628.90) rotate(-45)">X</text>
<rect x="250.8" y="637.2" width="7.4" height="7.2" fill="#a8d08c"/>
<text x="261.5" y="643.0" font-size="7.4" fill="#333" textLength="19.3" lengthAdjust="spacingAndGlyphs">SMZL</text>
<rect x="287.2" y="637.2" width="7.4" height="7.2" fill="#d47670"/>
<text x="298.2" y="643.0" font-size="7.4" fill="#333" textLength="24.1" lengthAdjust="spacingAndGlyphs">SMZL-T</text>
</svg>
<div class="frame"></div>
</body></html>
